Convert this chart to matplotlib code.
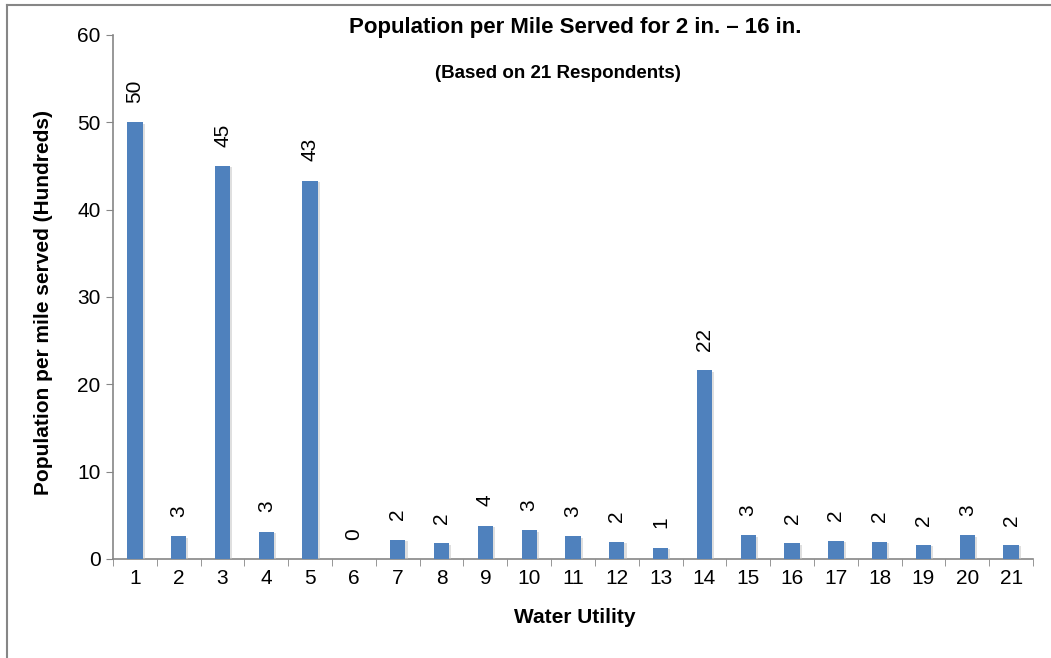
import numpy as np
import matplotlib.pyplot as plt
import matplotlib.patheffects as pe
from matplotlib.lines import Line2D
from matplotlib.ticker import FixedLocator

plt.rcParams['font.family'] = ['Liberation Sans', 'DejaVu Sans']

utilities = list(range(1, 22))
population = [50.0, 2.6, 45.0, 3.1, 43.3, 0.0, 2.2, 1.8, 3.8, 3.3, 2.6,
              2.0, 1.3, 21.6, 2.7, 1.8, 2.1, 2.0, 1.6, 2.7, 1.6]

BAR_COLOR = '#4f81bd'
AXIS_GRAY = '#868686'


def main():
    fig = plt.figure(figsize=(10.51, 6.58), dpi=100)
    ax = fig.add_axes([113 / 1051, 1 - 559 / 658, 920 / 1051, 524 / 658])

    x = np.arange(len(utilities))
    bars = ax.bar(x, population, width=0.35, color=BAR_COLOR, zorder=3)
    for bar in bars:
        bar.set_path_effects([pe.SimplePatchShadow(offset=(1.5, -1), shadow_rgbFace='#c0c0c0', alpha=0.5),
                              pe.Normal()])

    for xi, v in zip(x, population):
        ax.annotate(f"{v:.0f}", xy=(xi, v), xytext=(0, 14), textcoords='offset points',
                    rotation=90, ha='center', va='bottom', fontsize=15)

    ax.set_xlim(-0.5, len(utilities) - 0.5)
    ax.set_ylim(0, 60)
    ax.set_yticks([0, 10, 20, 30, 40, 50, 60])
    ax.set_xticks(x)
    ax.set_xticklabels([str(u) for u in utilities])
    ax.xaxis.set_minor_locator(FixedLocator(np.arange(-0.5, len(utilities), 1.0)))
    ax.tick_params(axis='x', which='major', length=0, labelsize=15, pad=7)
    ax.tick_params(axis='x', which='minor', length=5, color=AXIS_GRAY, direction='out')
    ax.tick_params(axis='y', length=5, color=AXIS_GRAY, labelsize=15, pad=4)

    for side in ('top', 'right'):
        ax.spines[side].set_visible(False)
    for side in ('left', 'bottom'):
        ax.spines[side].set_color(AXIS_GRAY)
        ax.spines[side].set_linewidth(1.2)

    ax.set_xlabel('Water Utility', fontsize=15, fontweight='bold')
    ax.set_ylabel('Population per mile served (Hundreds)', fontsize=15, fontweight='bold')
    ax.xaxis.set_label_coords((575 - 113) / 920, (559 - 608) / 524)
    ax.yaxis.set_label_coords((53 - 113) / 920, 0.49)

    fig.text(575 / 1051, 1 - 27 / 658, 'Population per Mile Served for 2 in. – 16 in.',
             ha='center', va='center', fontsize=16, fontweight='bold')
    fig.text(558 / 1051, 1 - 73 / 658, '(Based on 21 Respondents)',
             ha='center', va='center', fontsize=13.5, fontweight='bold')

    # chart border: only the top and left edges fall inside the image
    top = 1 - 5 / 658
    left = 7 / 1051
    fig.add_artist(Line2D([left, 1.0], [top, top], transform=fig.transFigure,
                          color=AXIS_GRAY, linewidth=1.5))
    fig.add_artist(Line2D([left, left], [0.0, top], transform=fig.transFigure,
                          color=AXIS_GRAY, linewidth=1.5))

    fig.savefig('out.png', dpi=100)


if __name__ == "__main__":
    main()
